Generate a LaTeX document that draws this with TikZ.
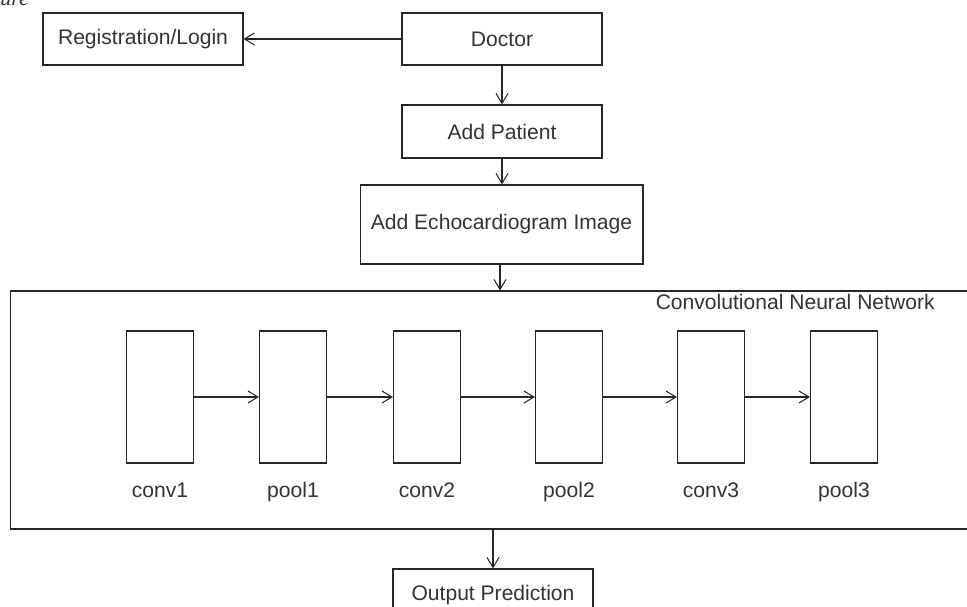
\documentclass[tikz,border=0pt]{standalone}
\usepackage{fontspec}
\setmainfont{Liberation Sans}
\newfontfamily\capfont{Liberation Serif}
\usetikzlibrary{arrows.meta}
\begin{document}
\begin{tikzpicture}[x=0.02cm,y=-0.02cm,
  every node/.style={text=black!80,font=\fontsize{12}{14}\selectfont},
  box/.style={draw=black!85,line width=0.6pt,minimum width=4cm,minimum height=1.04cm,inner sep=0pt},
  layer/.style={draw=black!85,line width=0.6pt,minimum width=1.34cm,minimum height=2.64cm,inner sep=0pt},
  arr/.style={draw=black!85,line width=0.6pt,-{Straight Barb[length=2mm,width=2.4mm]}}]
\useasboundingbox (0,0) rectangle (967,607);
% cut caption above
\node[anchor=base west,inner sep=0pt,font=\capfont\itshape\fontsize{12.5}{14}\selectfont] (cap) at (0,6) {ure};
% top part
\node[box] (reg) at (143,39) {Registration/Login};
\node[box] (doc) at (502,39) {Doctor};
\node[box,minimum height=1.06cm] (pat) at (502,131.5) {Add Patient};
\node[box,minimum width=5.66cm,minimum height=1.58cm] (echo) at (501.5,224.5) {Add Echocardiogram Image};
\draw[arr] (doc) -- (reg);
\draw[arr] (doc) -- (pat);
\draw[arr] (pat) -- (pat|-echo.north);
% network
\node[draw=black!85,line width=0.6pt,minimum width=19.8cm,minimum height=4.76cm,inner sep=0pt] (cnn) at (505,410) {};
\node[anchor=base east,inner sep=0pt] (cnnlab) at (935,310) {Convolutional Neural Network};
\draw[arr] (echo.south-|500,0) -- (cnn.north-|500,0);
\foreach \name/\x in {conv1/160,pool1/293,conv2/427,pool2/569,conv3/711,pool3/844}{
  \node[layer] (\name) at (\x,397) {};
  \node[anchor=base,inner sep=0pt] (\name-lab) at (\x,498) {\name};
}
\foreach \a/\b in {conv1/pool1,pool1/conv2,conv2/pool2,pool2/conv3,conv3/pool3}
  \draw[arr] (\a) -- (\b);
% output
\node[box] (out) at (493,595) {Output Prediction};
\draw[arr] (cnn.south-|out) -- (out);
\end{tikzpicture}
\end{document}
